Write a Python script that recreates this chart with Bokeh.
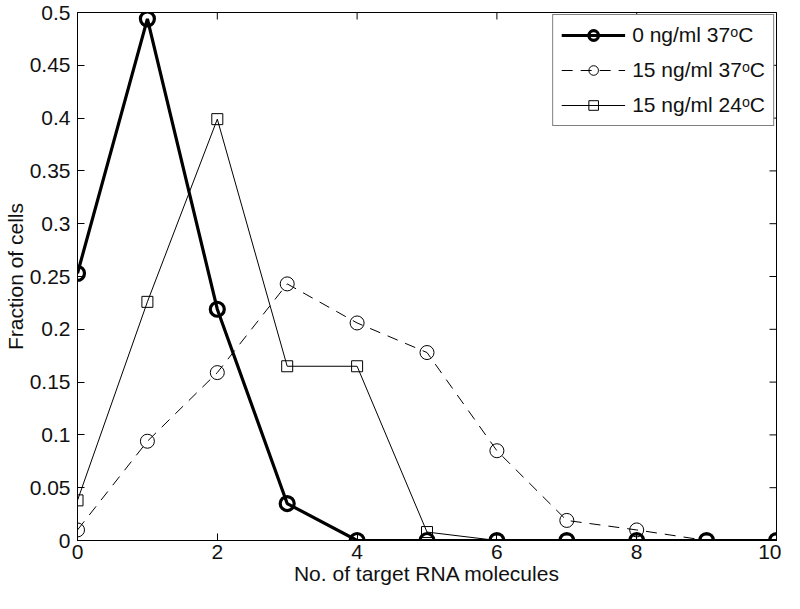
import math
from bokeh.plotting import figure
from bokeh.models import Range1d, FixedTicker, Legend, LegendItem
from bokeh.embed import file_html
from bokeh.resources import INLINE

# ---- data ----
x_vals = [0, 1, 2, 3, 4, 5, 6, 7, 8, 9, 10]
series_labels = ["0 ng/ml 37\u1d52C", "15 ng/ml 37\u1d52C", "15 ng/ml 24\u1d52C"]
s1_0ng_37C = [0.253, 0.494, 0.219, 0.035, 0.0, 0.0, 0.0, 0.0, 0.0, 0.0, 0.0]
s2_15ng_37C = [0.010, 0.094, 0.159, 0.243, 0.206, 0.178, 0.085, 0.019, 0.010, 0.0, 0.0]
s3_15ng_24C = [0.038, 0.226, 0.399, 0.165, 0.165, 0.008, 0.0, 0.0, 0.0, 0.0, 0.0]

x_ticks = [0, 2, 4, 6, 8, 10]
y_ticks = [0, 0.05, 0.1, 0.15, 0.2, 0.25, 0.3, 0.35, 0.4, 0.45, 0.5]
y_tick_labels = ["0", "0.05", "0.1", "0.15", "0.2", "0.25", "0.3", "0.35", "0.4", "0.45", "0.5"]
x_title = "No. of target RNA molecules"
y_title = "Fraction of cells"

FONT = "Liberation Sans"
FS = "21px"
INK = "black"
TXT = "#111111"

p = figure(frame_width=699, frame_height=528,
           x_range=Range1d(x_ticks[0], x_ticks[-1]),
           y_range=Range1d(y_ticks[0], y_ticks[-1]),
           output_backend="svg", toolbar_location=None,
           min_border_left=72, min_border_right=5,
           min_border_top=12, min_border_bottom=0)
p.xgrid.visible = False
p.ygrid.visible = False
p.outline_line_color = INK
p.outline_line_width = 1
p.background_fill_color = "white"
p.border_fill_color = "white"

for ax, ticks in ((p.xaxis[0], x_ticks), (p.yaxis[0], y_ticks)):
    ax.ticker = FixedTicker(ticks=ticks)
    ax.major_tick_in = 7
    ax.major_tick_out = 0
    ax.minor_tick_line_color = None
    ax.axis_line_color = INK
    ax.major_tick_line_color = INK
    ax.major_label_text_font = FONT
    ax.major_label_text_font_size = FS
    ax.major_label_text_color = TXT
    ax.axis_label_text_font = FONT
    ax.axis_label_text_font_size = FS
    ax.axis_label_text_font_style = "normal"
    ax.axis_label_text_color = TXT
    ax.axis_label_standoff = 0

p.yaxis[0].major_label_overrides = {t: l for t, l in zip(y_ticks, y_tick_labels)}
p.xaxis[0].major_label_standoff = 4
p.yaxis[0].major_label_standoff = 7
p.xaxis[0].axis_label = x_title
p.yaxis[0].axis_label = y_title

# inward ticks on the top and right edges of the box (half of each dash is clipped by the frame)
p.scatter(x_ticks, [y_ticks[-1]] * len(x_ticks), marker="dash", angle=math.pi / 2,
          size=14, line_color=INK, line_width=1)
p.scatter([x_ticks[-1]] * len(y_ticks), y_ticks, marker="dash", angle=0,
          size=14, line_color=INK, line_width=1)

# ---- series ----
l2 = p.line(x_vals, s2_15ng_37C, line_color=INK, line_width=1, line_dash="11 8")
m2 = p.scatter(x_vals, s2_15ng_37C, marker="circle", size=14, fill_color=None,
               line_color=INK, line_width=1)
l3 = p.line(x_vals, s3_15ng_24C, line_color=INK, line_width=1)
m3 = p.scatter(x_vals, s3_15ng_24C, marker="square", size=11, fill_color=None,
               line_color=INK, line_width=1)
l1 = p.line(x_vals, s1_0ng_37C, line_color=INK, line_width=3.2)
m1 = p.scatter(x_vals, s1_0ng_37C, marker="circle", size=14, fill_color=None,
               line_color=INK, line_width=3.2)

legend = Legend(items=[
    LegendItem(label=series_labels[0], renderers=[l1, m1]),
    LegendItem(label=series_labels[1], renderers=[l2, m2]),
    LegendItem(label=series_labels[2], renderers=[l3, m3]),
], location="top_right")
legend.border_line_color = INK
legend.border_line_width = 1
legend.background_fill_color = "white"
legend.background_fill_alpha = 1
legend.label_text_font = FONT
legend.label_text_font_size = FS
legend.label_text_color = TXT
legend.padding = 8
legend.spacing = 11
legend.glyph_width = 64
legend.glyph_height = 24
legend.label_height = 24
legend.label_standoff = 7
legend.margin = 2
p.add_layout(legend)

open("out.html", "w").write(file_html(p, INLINE))
